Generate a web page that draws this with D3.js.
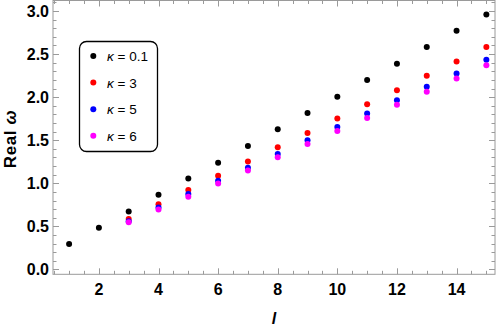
<!DOCTYPE html>
<html>
<head>
<meta charset="UTF-8">
<title>Real omega vs l</title>
<script src="https://d3js.org/d3.v7.min.js"></script>
<style>
    body { margin: 0; background: #fff; }
    svg { display: block; }
    .tick-label { font-family: "Liberation Sans", Arial, sans-serif; font-weight: bold; font-size: 16px; fill: #000; }
</style>
</head>
<body>
<svg id="chart" width="496" height="327"></svg>
<script>
    // 数据
    const lAll = [1, 2, 3, 4, 5, 6, 7, 8, 9, 10, 11, 12, 13, 14, 15];
    const lFrom3 = [3, 4, 5, 6, 7, 8, 9, 10, 11, 12, 13, 14, 15];
    const kappa01 = [0.295, 0.484, 0.674, 0.866, 1.056, 1.24, 1.434, 1.627, 1.816, 2.006, 2.199, 2.388, 2.581, 2.771, 2.96];
    const kappa3 = [0.585, 0.757, 0.922, 1.087, 1.253, 1.419, 1.585, 1.751, 1.917, 2.079, 2.249, 2.415, 2.581];
    const kappa5 = [0.56, 0.72, 0.875, 1.03, 1.18, 1.34, 1.50, 1.655, 1.81, 1.965, 2.12, 2.275, 2.435];
    const kappa6 = [0.547, 0.697, 0.845, 0.998, 1.15, 1.303, 1.455, 1.608, 1.758, 1.913, 2.064, 2.218, 2.369];
    const legendLabels = ["0.1", "3", "5", "6"];
    const colors = ["#000000", "#ff0000", "#0000ff", "#ff00ff"];
    const xTicks = [2, 4, 6, 8, 10, 12, 14];
    const yTicks = [0.0, 0.5, 1.0, 1.5, 2.0, 2.5, 3.0];

    const series = [
        { l: lAll, v: kappa01 },
        { l: lFrom3, v: kappa3 },
        { l: lFrom3, v: kappa5 },
        { l: lFrom3, v: kappa6 }
    ];

    const svg = d3.select("#chart");
    const plotLeft = 53, plotRight = 495, plotTop = 0.5, plotBottom = 274.3;

    const x = d3.scaleLinear().domain([0.46, 15.29]).range([plotLeft, plotRight]);
    const y = d3.scaleLinear().domain([-0.056, 3.122]).range([plotBottom, plotTop]);

    const frameColor = "#9a9a9a";
    const g = svg.append("g");

    // 边框
    g.append("rect")
        .attr("x", plotLeft).attr("y", plotTop)
        .attr("width", plotRight - plotLeft).attr("height", plotBottom - plotTop)
        .attr("fill", "none").attr("stroke", frameColor).attr("stroke-width", 1);

    // 刻度
    const xMinor = d3.range(0.5, 15.3, 0.5);
    const yMinor = d3.range(0, 3.11, 0.1);
    const isMajorX = d => Math.abs(d / 2 - Math.round(d / 2)) < 1e-6;
    const isMajorY = d => Math.abs(d * 2 - Math.round(d * 2)) < 1e-6;

    xMinor.forEach(d => {
        const len = isMajorX(d) ? 6 : 3.5;
        const px = Math.round(x(d)) + 0.5;
        g.append("line").attr("x1", px).attr("x2", px).attr("y1", plotBottom).attr("y2", plotBottom - len)
            .attr("stroke", frameColor);
        g.append("line").attr("x1", px).attr("x2", px).attr("y1", plotTop).attr("y2", plotTop + len)
            .attr("stroke", frameColor);
    });
    yMinor.forEach(d => {
        const len = isMajorY(d) ? 6 : 3.5;
        const py = Math.round(y(d)) + 0.5;
        g.append("line").attr("x1", plotLeft).attr("x2", plotLeft + len).attr("y1", py).attr("y2", py)
            .attr("stroke", frameColor);
        g.append("line").attr("x1", plotRight).attr("x2", plotRight - len).attr("y1", py).attr("y2", py)
            .attr("stroke", frameColor);
    });

    // 刻度标签
    g.selectAll(".xl").data(xTicks).enter().append("text")
        .attr("class", "tick-label")
        .attr("x", d => x(d)).attr("y", 295)
        .attr("text-anchor", "middle")
        .text(d => d);
    g.selectAll(".yl").data(yTicks).enter().append("text")
        .attr("class", "tick-label")
        .attr("x", 49).attr("y", d => y(d) + 5.5)
        .attr("text-anchor", "end")
        .text(d => d.toFixed(1));

    // 坐标轴标题
    const yTitle = svg.append("text")
        .attr("transform", "translate(15.5,139) rotate(-90)")
        .attr("text-anchor", "middle")
        .style("font-family", "Liberation Sans, Arial, sans-serif")
        .style("font-weight", "bold")
        .style("font-size", "17px")
        .style("letter-spacing", "0.6px");
    yTitle.append("tspan").text("Real ");
    yTitle.append("tspan").style("font-style", "italic").text("ω");

    svg.append("text")
        .attr("x", 274).attr("y", 324)
        .attr("text-anchor", "middle")
        .style("font-family", "Liberation Sans, Arial, sans-serif")
        .style("font-style", "italic")
        .style("font-weight", "bold")
        .style("font-size", "16px")
        .text("l");

    // 数据点
    series.forEach((s, i) => {
        g.selectAll(null).data(s.l.map((l, j) => ({ l: l, v: s.v[j] }))).enter().append("circle")
            .attr("cx", d => x(d.l)).attr("cy", d => y(d.v))
            .attr("r", 3)
            .attr("fill", colors[i]);
    });

    // 图例
    const legend = svg.append("g");
    legend.append("rect")
        .attr("x", 79.5).attr("y", 41.5)
        .attr("width", 78).attr("height", 110)
        .attr("rx", 7).attr("ry", 7)
        .attr("fill", "#fff").attr("stroke", "#000").attr("stroke-width", 1.3);
    legendLabels.forEach((lab, i) => {
        const cy = 56 + i * 26.6;
        legend.append("circle").attr("cx", 93.3).attr("cy", cy).attr("r", 3).attr("fill", colors[i]);
        const t = legend.append("text")
            .attr("x", 107).attr("y", cy + 5)
            .style("font-family", "Liberation Sans, Arial, sans-serif")
            .style("font-size", "13.5px");
        t.append("tspan").style("font-style", "italic").text("κ");
        t.append("tspan").text(" = " + lab);
    });
</script>
</body>
</html>
